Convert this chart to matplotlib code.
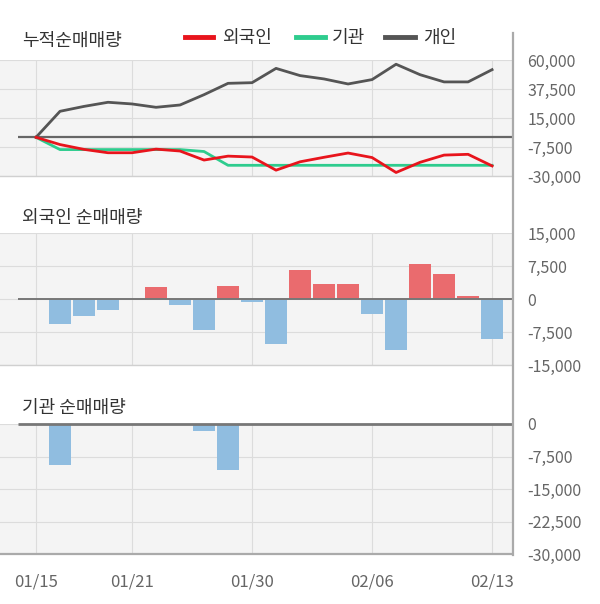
import numpy as np
import matplotlib
matplotlib.use("Agg")
import matplotlib.pyplot as plt
from matplotlib.lines import Line2D

plt.rcParams['font.family'] = ['Noto Sans CJK KR', 'DejaVu Sans']

dates = ["01/15", "01/16", "01/17", "01/20", "01/21", "01/22", "01/23", "01/28", "01/29", "01/30",
         "01/31", "02/03", "02/04", "02/05", "02/06", "02/07", "02/10", "02/11", "02/12", "02/13"]
foreign = [0, -5600, -3760, -2600, 0, 2800, -1470, -7000, 3050, -700,
           -10200, 6500, 3500, 3300, -3500, -11600, 7900, 5600, 600, -9000]
institution = [0, -9500, 0, 0, 0, 0, 0, -1500, -10700, 0,
               0, 0, 0, 0, 0, 0, 0, 0, 0, 0]
individual_cum = [0, 20200, 24000, 27200, 25900, 23300, 25100, 33100, 41900, 42400,
                  53500, 47900, 45300, 41400, 44800, 56700, 48600, 43000, 43000, 52500]
xtick_labels = ["01/15", "01/21", "01/30", "02/06", "02/13"]
yt1 = [60000, 37500, 15000, -7500, -30000]
yt2 = [15000, 7500, 0, -7500, -15000]
yt3 = [0, -7500, -15000, -22500, -30000]

foreign_cum = np.cumsum(foreign)
inst_cum = np.cumsum(institution)
x = np.arange(len(dates))
xt = [dates.index(d) for d in xtick_labels]

W, H = 600, 604
fig = plt.figure(figsize=(6.0, 6.04), dpi=100)

def ax_at(top, bottom):
    return fig.add_axes([0, (H - bottom) / H, 512 / W, (bottom - top) / H])

BG = '#f4f4f4'
GRID = '#dcdcdc'
TICKC = '#666666'
XL = (-1.5, 19.83)

def style(ax, yticks, ylim, bottom_color='#d0d0d0', bottom_lw=1.0):
    ax.set_facecolor(BG)
    ax.set_xlim(*XL)
    ax.set_ylim(*ylim)
    for s in ['left', 'top', 'right']:
        ax.spines[s].set_visible(False)
    ax.spines['bottom'].set_color(bottom_color)
    ax.spines['bottom'].set_linewidth(bottom_lw)
    ax.set_yticks(yticks)
    ax.set_xticks(xt)
    ax.grid(True, color=GRID, linewidth=0.8)
    ax.set_axisbelow(True)
    ax.yaxis.tick_right()
    ax.tick_params(axis='y', length=0, pad=11, labelsize=11.5, labelcolor=TICKC)
    ax.tick_params(axis='x', length=0, labelbottom=False)
    ax.set_yticklabels([f"{v:,}" for v in yticks])
    for lab in ax.get_yticklabels():
        lab.set_horizontalalignment('left')

# Panel 1
ax1 = ax_at(60, 176)
style(ax1, yt1, (-30000, 60000))
ax1.hlines(0, -0.75, XL[1], color='#666666', linewidth=1.6, zorder=2)
ax1.plot(x, inst_cum, color='#2ecc8e', linewidth=2.0, zorder=3)
ax1.plot(x, individual_cum, color='#555555', linewidth=2.0, zorder=3)
ax1.plot(x, foreign_cum, color='#e8141c', linewidth=2.0, zorder=4)

# Panel 2
ax2 = ax_at(233, 365)
style(ax2, yt2, (-15000, 15000))
cols2 = ['#ea6b6e' if v > 0 else '#90bde0' for v in foreign]
ax2.bar(x, foreign, width=0.95, color=cols2, zorder=2)
ax2.hlines(0, -0.75, XL[1], color='#777777', linewidth=1.4, zorder=3)

# Panel 3
ax3 = ax_at(424, 554)
style(ax3, yt3, (-30000, 0), bottom_color='#aaaaaa', bottom_lw=1.6)
cols3 = ['#ea6b6e' if v > 0 else '#90bde0' for v in institution]
ax3.bar(x, institution, width=0.95, color=cols3, zorder=2)
ax3.hlines(0, -0.75, XL[1], color='#777777', linewidth=2.0, zorder=3, clip_on=False)
ax3.tick_params(axis='x', labelbottom=True, labelsize=12, labelcolor=TICKC, pad=14)
ax3.set_xticklabels(xtick_labels)

# Right vertical line
fig.add_artist(Line2D([512.5 / W, 512.5 / W], [(H - 33) / H, (H - 555) / H],
                      color='#aaaaaa', linewidth=1.6, transform=fig.transFigure))

# Titles
TC = '#333333'
fig.text(22 / W, 1 - 41 / H, "누적순매매량", fontsize=13, color=TC, va='center', ha='left')
fig.text(22 / W, 1 - 218 / H, "외국인 순매매량", fontsize=13, color=TC, va='center', ha='left')
fig.text(22 / W, 1 - 408 / H, "기관 순매매량", fontsize=13, color=TC, va='center', ha='left')

# Legend
leg = [(185, 213, 222, "외국인", '#e8141c'),
       (296, 325, 332, "기관", '#2ecc8e'),
       (385, 415, 423, "개인", '#555555')]
for x0, x1, tx, label, c in leg:
    fig.add_artist(Line2D([x0 / W, x1 / W], [1 - 37 / H, 1 - 37 / H], color=c,
                          linewidth=3.5, transform=fig.transFigure))
    fig.text(tx / W, 1 - 38 / H, label, fontsize=13, color=TC, va='center', ha='left')

fig.savefig("out.png", dpi=100, facecolor='white')
